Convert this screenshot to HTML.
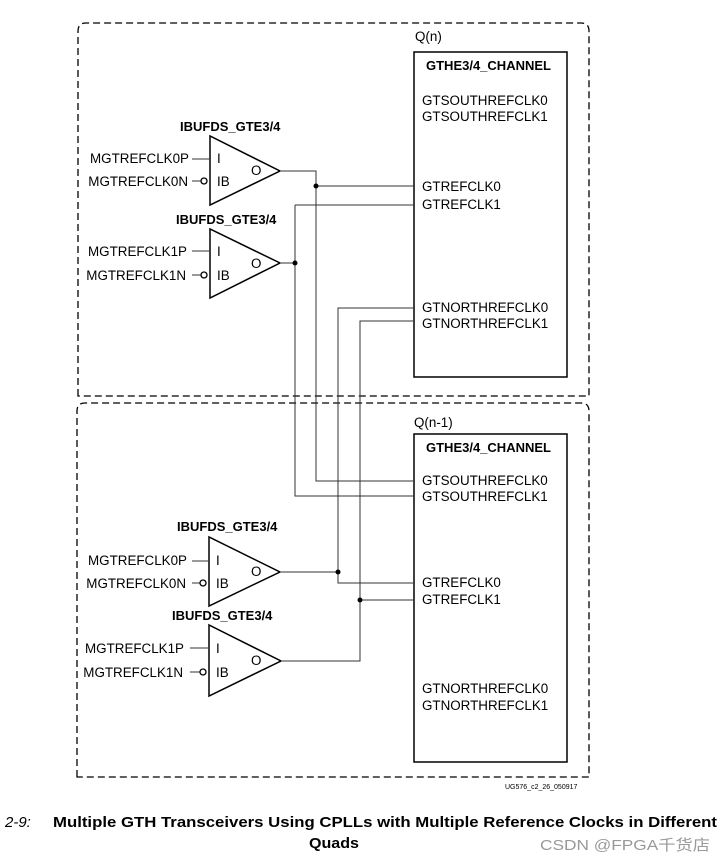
<!DOCTYPE html>
<html><head><meta charset="utf-8"><style>
html,body{margin:0;padding:0;background:#fff;width:727px;height:862px;overflow:hidden}
svg{display:block}
text{font-family:"Liberation Sans",Arial,sans-serif;font-size:13.4px;fill:#000}
.b{font-weight:bold;font-size:13px}
</style></head><body>
<svg width="727" height="862" viewBox="0 0 727 862" xmlns="http://www.w3.org/2000/svg">
<g fill="none" stroke="#000" stroke-width="1.3" stroke-dasharray="7,4">
<path d="M78,396 V31 Q78,23 86,23 H581 Q589,23 589,31 V396 Z"/>
<path d="M77,777 V411 Q77,403 85,403 H581 Q589,403 589,411 V777 Z"/>
</g>
<g fill="none" stroke="#000" stroke-width="1.5">
<rect x="414" y="52" width="153" height="325"/>
<rect x="414" y="434" width="153" height="328"/>
<polygon points="210,136 210,205 280,171"/>
<polygon points="210,229 210,298 280,263"/>
<polygon points="209,537 209,606 280,572"/>
<polygon points="209,625 209,696 281,661"/>
</g>
<g fill="none" stroke="#333" stroke-width="1">
<path d="M280,171 H316 V481 H414"/>
<path d="M316,186 H414"/>
<path d="M280,263 H295 M295,205 H414 M295,205 V496 H414"/>
<path d="M414,308 H338 V583 H414 M280,572 H338"/>
<path d="M414,321 H360 V661 H281 M360,600 H414"/>
<path d="M192,159 H210 M192,181 H201 M192,251 H210 M192,275 H201"/>
<path d="M192,561 H209 M192,583 H200 M190,648 H209 M190,672 H200"/>
</g>
<g fill="#fff" stroke="#000" stroke-width="1.3">
<circle cx="204" cy="181" r="3"/><circle cx="204" cy="275" r="3"/>
<circle cx="203" cy="583" r="3"/><circle cx="203" cy="672" r="3"/>
</g>
<g fill="#000"><circle cx="316" cy="186" r="2.5"/><circle cx="295" cy="263" r="2.5"/><circle cx="338" cy="572" r="2.5"/><circle cx="360" cy="600" r="2.5"/></g>
<text class="b" x="180" y="131">IBUFDS_GTE3/4</text>
<text class="b" x="176" y="224">IBUFDS_GTE3/4</text>
<text class="b" x="177" y="531">IBUFDS_GTE3/4</text>
<text class="b" x="172" y="620">IBUFDS_GTE3/4</text>
<g text-anchor="end">
<text x="189" y="163">MGTREFCLK0P</text><text x="188" y="186">MGTREFCLK0N</text>
<text x="187" y="256">MGTREFCLK1P</text><text x="186" y="280">MGTREFCLK1N</text>
<text x="187" y="565">MGTREFCLK0P</text><text x="186" y="588">MGTREFCLK0N</text>
<text x="184" y="653">MGTREFCLK1P</text><text x="183" y="677">MGTREFCLK1N</text>
</g>
<g>
<text x="217" y="163">I</text><text x="217" y="186">IB</text><text x="251" y="175">O</text>
<text x="217" y="256">I</text><text x="217" y="280">IB</text><text x="251" y="268">O</text>
<text x="216" y="565">I</text><text x="216" y="588">IB</text><text x="251" y="576">O</text>
<text x="216" y="653">I</text><text x="216" y="677">IB</text><text x="251" y="665">O</text>
</g>
<text x="415" y="41">Q(n)</text>
<text class="b" x="426" y="70">GTHE3/4_CHANNEL</text>
<text x="422" y="105">GTSOUTHREFCLK0</text><text x="422" y="121">GTSOUTHREFCLK1</text>
<text x="422" y="191">GTREFCLK0</text><text x="422" y="209">GTREFCLK1</text>
<text x="422" y="312">GTNORTHREFCLK0</text><text x="422" y="328">GTNORTHREFCLK1</text>
<text x="414" y="427">Q(n-1)</text>
<text class="b" x="426" y="452">GTHE3/4_CHANNEL</text>
<text x="422" y="485">GTSOUTHREFCLK0</text><text x="422" y="501">GTSOUTHREFCLK1</text>
<text x="422" y="587">GTREFCLK0</text><text x="422" y="604">GTREFCLK1</text>
<text x="422" y="693">GTNORTHREFCLK0</text><text x="422" y="710">GTNORTHREFCLK1</text>
<text x="505" y="789" style="font-size:7px">UG576_c2_26_050917</text>
<text x="5" y="827" style="font-size:15px;font-style:italic">2-9:</text>
<text x="53" y="827" style="font-size:15px;font-weight:bold" textLength="664" lengthAdjust="spacingAndGlyphs">Multiple GTH Transceivers Using CPLLs with Multiple Reference Clocks in Different</text>
<text x="309" y="848" style="font-size:15px;font-weight:bold" textLength="50" lengthAdjust="spacingAndGlyphs">Quads</text>
<text x="540" y="850" style="font-size:15px;fill:#999;font-family:'Liberation Sans','Noto Sans CJK SC',sans-serif" textLength="170" lengthAdjust="spacingAndGlyphs">CSDN @FPGA千货店</text>
</svg>
</body></html>
